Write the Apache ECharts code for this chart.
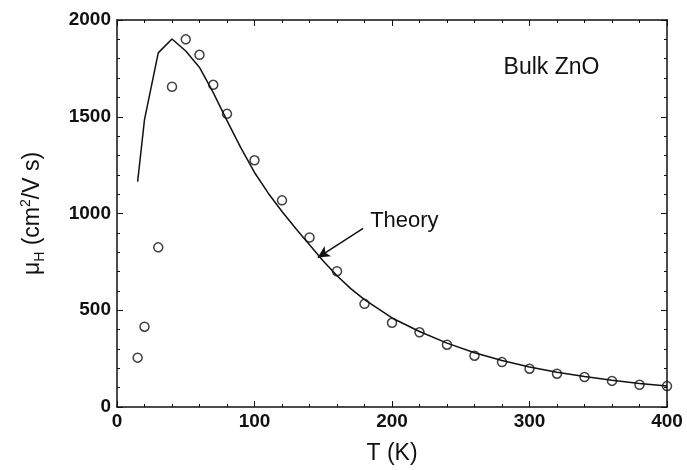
<!DOCTYPE html>
<html>
<head>
<meta charset="utf-8">
<script src="https://cdn.jsdelivr.net/npm/echarts@6/dist/echarts.min.js"></script>
<style>
  html, body { margin: 0; padding: 0; background: #fff; }
  #chart { width: 687px; height: 470px; }
</style>
</head>
<body>
<div id="chart"></div>
<script>
// measured points (open circles)
var dataT  = [15, 20, 30, 40, 50, 60, 70, 80, 100, 120, 140, 160, 180, 200, 220, 240, 260, 280, 300, 320, 340, 360, 380, 400];
var dataMu = [255, 415, 825, 1655, 1900, 1820, 1665, 1515, 1275, 1068, 876, 702, 533, 435, 386, 322, 265, 232, 198, 172, 155, 135, 115, 108];

// theory curve
var theoryT  = [15, 20, 30, 40, 50, 60, 70, 80, 90, 100, 110, 120, 130, 140, 150, 160, 170, 180, 200, 220, 240, 260, 280, 300, 320, 340, 360, 380, 400];
var theoryMu = [1165, 1485, 1830, 1902, 1840, 1755, 1625, 1480, 1340, 1212, 1105, 1010, 922, 838, 755, 678, 612, 555, 460, 390, 330, 280, 240, 207, 180, 158, 138, 122, 108];

var xTicks = [0, 100, 200, 300, 400];
var yTicks = [0, 500, 1000, 1500, 2000];

// annotations (data coordinates)
var labelBulk = [316, 1753];
var labelTheory = [209, 959];
var arrowFrom = [179, 923];
var arrowTo = [146, 772];

var font = 'Liberation Sans, Arial, sans-serif';
var chart = echarts.init(document.getElementById('chart'));

function pairs(xs, ys) {
  return xs.map(function (x, i) { return [x, ys[i]]; });
}

function frameAxis(extra) {
  var a = {
    type: 'value',
    axisLine: { show: true, onZero: false, lineStyle: { color: '#111', width: 1.5 } },
    axisTick: { show: true, inside: true, length: 6, lineStyle: { color: '#111' } },
    minorTick: { show: true, splitNumber: 5, length: 3, lineStyle: { color: '#111' } },
    splitLine: { show: false },
    axisLabel: { show: false }
  };
  return Object.assign(a, extra);
}

chart.setOption({
  animation: false,
  grid: { left: 117, right: 20, top: 20, bottom: 62 },
  xAxis: [
    frameAxis({
      position: 'bottom', min: xTicks[0], max: xTicks[xTicks.length - 1], interval: 100,
      name: 'T (K)', nameLocation: 'middle', nameGap: 35,
      nameTextStyle: { fontFamily: font, fontSize: 23, color: '#111' },
      axisLabel: { show: true, fontFamily: font, fontSize: 19, fontWeight: 'bold', color: '#111', margin: 5,
        formatter: function (v) { return String(v); } }
    }),
    frameAxis({ position: 'top', min: xTicks[0], max: xTicks[xTicks.length - 1], interval: 100 })
  ],
  yAxis: [
    frameAxis({
      position: 'left', min: yTicks[0], max: yTicks[yTicks.length - 1], interval: 500,
      name: '{t|μ}{sub|H}{t| (cm}{sup|2}{t|/V s)}',
      nameLocation: 'middle', nameRotate: 90, nameGap: 70,
      nameTextStyle: {
        fontFamily: font, color: '#111',
        rich: {
          t: { fontFamily: font, fontSize: 23, color: '#111', lineHeight: 28, verticalAlign: 'middle' },
          sub: { fontFamily: font, fontSize: 14, color: '#111', lineHeight: 14, verticalAlign: 'bottom' },
          sup: { fontFamily: font, fontSize: 14, color: '#111', lineHeight: 14, verticalAlign: 'top' }
        }
      },
      axisLabel: { show: true, fontFamily: font, fontSize: 19, fontWeight: 'bold', color: '#111', margin: 6,
        formatter: function (v) { return String(v); } }
    }),
    frameAxis({ position: 'right', min: yTicks[0], max: yTicks[yTicks.length - 1], interval: 500 })
  ],
  series: [{
    name: 'Theory',
    type: 'line',
    data: pairs(theoryT, theoryMu),
    showSymbol: false,
    smooth: false,
    lineStyle: { color: '#111', width: 1.5 },
    markLine: {
      silent: true,
      symbol: ['none', 'arrow'],
      symbolSize: [9, 12],
      lineStyle: { color: '#111', width: 1.5, type: 'solid' },
      label: { show: false },
      data: [[{ coord: arrowFrom }, { coord: arrowTo }]]
    },
    markPoint: {
      silent: true,
      symbol: 'circle', symbolSize: 0,
      label: { show: true, fontFamily: font, fontSize: 22, color: '#111', position: 'inside' },
      data: [
        { coord: labelTheory, value: 'Theory', label: { formatter: 'Theory' } },
        { coord: labelBulk, value: 'Bulk ZnO', label: { formatter: 'Bulk ZnO', fontSize: 23 } }
      ]
    }
  }, {
    name: 'Data',
    type: 'scatter',
    data: pairs(dataT, dataMu),
    symbol: 'circle',
    symbolSize: 9,
    itemStyle: { color: 'rgba(255,255,255,0)', borderColor: '#111', borderWidth: 1.5 }
  }, {
    // keeps the mirrored frame axes active
    name: 'frame',
    type: 'scatter',
    xAxisIndex: 1,
    yAxisIndex: 1,
    data: [],
    silent: true
  }]
});
</script>
</body>
</html>
